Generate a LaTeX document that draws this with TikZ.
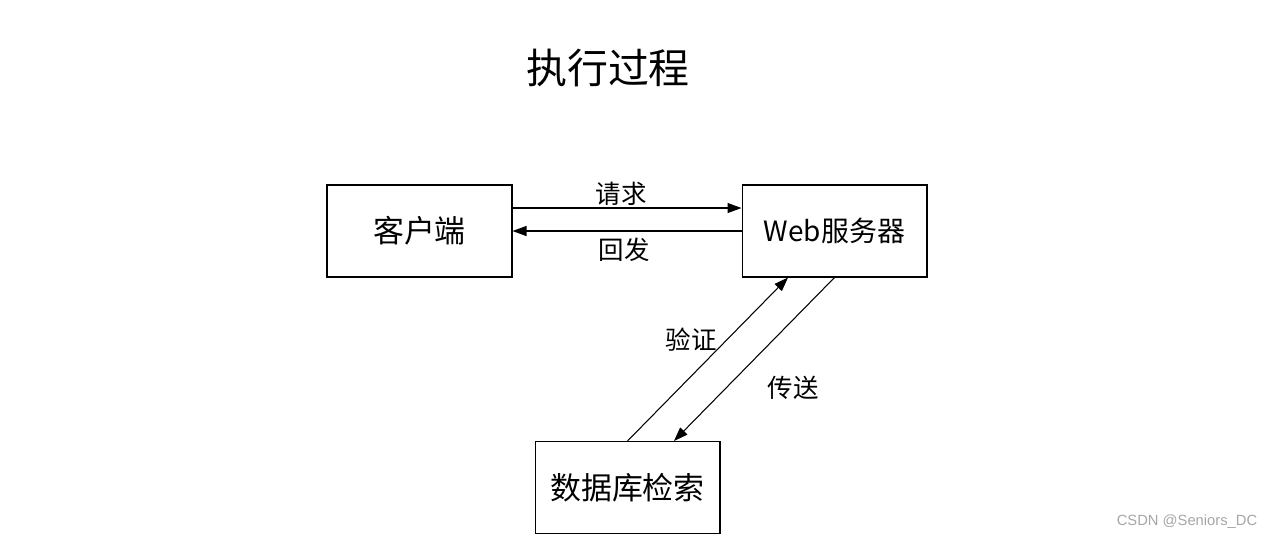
\documentclass[tikz,border=0pt]{standalone}
\usepackage{fontspec}
\usetikzlibrary{arrows.meta}
\newfontfamily\cjk{Noto Sans CJK SC}
\setsansfont{Liberation Sans}

\begin{document}
\begin{tikzpicture}[x=0.02cm,y=-0.02cm,
        box/.style={draw,line width=0.6pt,minimum width=3.7cm,minimum height=1.84cm,inner sep=0pt,font=\cjk\fontsize{17.6}{20}\selectfont},
        lbl/.style={inner sep=0pt,font=\cjk\fontsize{14.5}{16}\selectfont},
        flow/.style={line width=0.6pt,-{Triangle[length=0.28cm,width=0.2cm]}}]
        \useasboundingbox (0,0) rectangle (1273,539);
        \node[inner sep=0pt,font=\cjk\fontsize{23.3}{26}\selectfont] (title) at (608,68) {执行过程};
        \node[box] (client) at (419.5,231) {客户端};
        \node[box,font=\cjk\fontsize{15.9}{18}\selectfont] (web) at (834.5,231) {Web服务器};
        \node[box] (db) at (627.5,487.5) {数据库检索};
        % client <-> web
        \draw[flow] ([yshift=0.46cm]client.east) -- ([yshift=0.46cm]web.west);
        \draw[flow] (web.west) -- (client.east);
        \node[lbl] (req) at (621,194) {请求};
        \node[lbl] (resp) at (624,250) {回发};
        % web <-> db
        \draw[flow] (db.north) -- ([xshift=-0.93cm]web.south);
        \draw[flow] (web.south) -- ([xshift=0.93cm]db.north);
        \node[lbl] (check) at (691,340) {验证};
        \node[lbl] (send) at (793,388) {传送};
        \node[inner sep=0pt,text=gray!70,font=\sffamily\fontsize{8.4}{10}\selectfont] (mark) at (1187,522) {CSDN @Seniors\_DC};
\end{tikzpicture}
\end{document}
